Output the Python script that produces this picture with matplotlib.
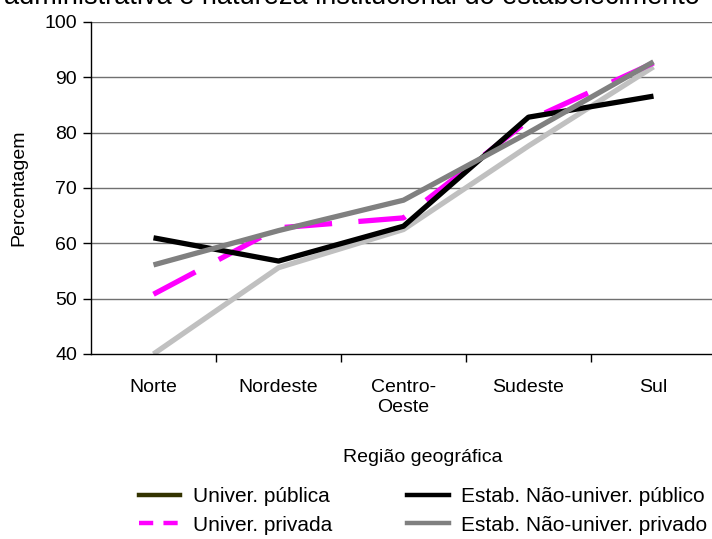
import matplotlib
matplotlib.use("Agg")
import matplotlib.pyplot as plt
from matplotlib.lines import Line2D

plt.rcParams['font.family'] = ['Liberation Sans', 'DejaVu Sans']

regions = ["Norte", "Nordeste", "Centro-\nOeste", "Sudeste", "Sul"]
univ_privada = [50.8, 62.8, 64.6, 82.2, 92.6]
estab_publico = [61.0, 56.8, 63.1, 82.8, 86.6]
estab_privado = [56.1, 62.3, 67.8, 80.0, 92.8]
total = [40.0, 55.6, 62.5, 77.6, 91.9]

title = "administrativa e natureza institucional do estabelecimento"

fig = plt.figure(figsize=(7.12, 5.39), dpi=100)
ax = fig.add_axes([91/712, 1-354/539, 625/712, 332/539])

x = list(range(len(regions)))
ax.plot(x, total, color='#c0c0c0', lw=3.8, solid_capstyle='butt', zorder=2)
ax.plot(x, estab_privado, color='#808080', lw=3.8, solid_capstyle='butt', zorder=5)
ax.plot(x, univ_privada, color='#ff00ff', lw=3.8, ls=(0, (9.0, 5.0)), dash_capstyle='butt', zorder=3)
ax.plot(x, estab_publico, color='#000000', lw=3.8, solid_capstyle='butt', zorder=4)

ax.set_xlim(-0.5, len(regions) - 0.5)
ax.set_ylim(40, 100)
ax.set_yticks(range(40, 101, 10))
for v in range(50, 101, 10):
    ax.axhline(v, color='#707070', lw=1.0, zorder=1)

ax.set_xticks([i + 0.5 for i in range(len(regions) - 1)])
ax.set_xticklabels([])
ax.set_xticks(x, minor=True)
ax.set_xticklabels(regions, minor=True, fontsize=14)
ax.tick_params(axis='x', which='minor', length=0, pad=18)
ax.tick_params(axis='x', which='major', length=6, direction='out', width=1)
ax.tick_params(axis='y', length=6, direction='out', width=1, labelsize=14, pad=4)

for s in ['top', 'right']:
    ax.spines[s].set_visible(False)
ax.spines['left'].set_linewidth(1)
ax.spines['bottom'].set_linewidth(1)

ax.set_ylabel("Percentagem", fontsize=14, labelpad=12)
fig.text(423/712, 1-458/539, "Região geográfica", fontsize=14, ha='center', va='center')
fig.text(352/712, 1-4/539, title, fontsize=19.5, ha='center', va='baseline')

handles = [
    Line2D([], [], color='#333300', lw=3.2),
    Line2D([], [], color='#ff00ff', lw=3.2, ls=(0, (3.2, 2.3))),
    Line2D([], [], color='#000000', lw=3.2),
    Line2D([], [], color='#808080', lw=3.2),
]
labels = ["Univer. pública", "Univer. privada", "Estab. Não-univer. público", "Estab. Não-univer. privado"]
fig.legend(handles, labels, loc='center', bbox_to_anchor=(423/712, 1-511/539), ncol=2,
           frameon=False, fontsize=15, handlelength=2.0, columnspacing=3.6,
           labelspacing=0.45, handletextpad=0.6)

fig.savefig("out.png", dpi=100)
